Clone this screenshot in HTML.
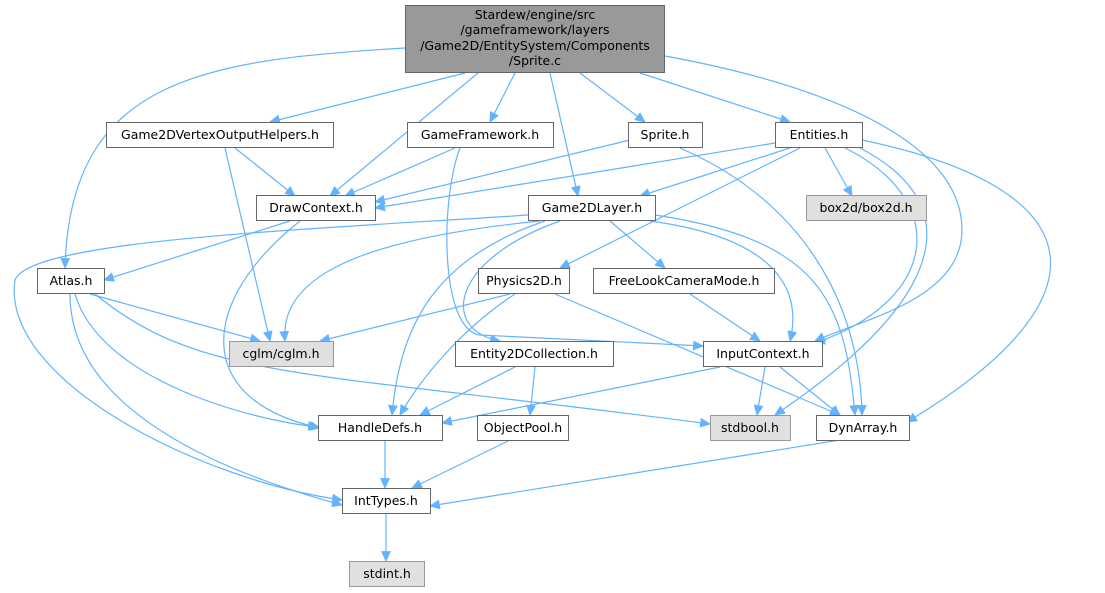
<!DOCTYPE html>
<html><head><meta charset="utf-8"><style>
html,body{margin:0;padding:0;background:#fff;}
svg{display:block;}
text{font-family:"DejaVu Sans","Liberation Sans",sans-serif;font-size:12.5px;fill:#000;}
</style></head><body>
<svg width="1105" height="593" viewBox="0 0 1105 593" xmlns="http://www.w3.org/2000/svg">
<defs><marker id="a" viewBox="0 0 10 10" refX="9" refY="5" markerWidth="11" markerHeight="11" markerUnits="userSpaceOnUse" orient="auto"><path d="M0,0.5 L10,5 L0,9.5 z" fill="#63b3ff"/></marker></defs>
<g fill="none" stroke="#63b3ff" stroke-width="1.2" marker-end="url(#a)">
<path d="M465,73 L270,122"/>
<path d="M405,48 C200,60 70,80 65,268"/>
<path d="M478,73 L330,196"/>
<path d="M515,73 L490,122"/>
<path d="M550,73 L578,196"/>
<path d="M580,73 L645,122"/>
<path d="M640,73 L790,122"/>
<path d="M665,56 C850,90 962,150 962,230 C962,300 860,320 815,341"/>
<path d="M235,148 L295,196"/>
<path d="M225,148 L270,341"/>
<path d="M455,148 L345,196"/>
<path d="M460,148 C440,200 440,330 480,335 L703,346"/>
<path d="M630,140 L375,202"/>
<path d="M680,148 C800,200 860,300 862,415"/>
<path d="M775,143 L375,208"/>
<path d="M790,148 L640,196"/>
<path d="M825,148 L852,196"/>
<path d="M800,148 L560,268"/>
<path d="M845,148 C950,200 940,300 815,343"/>
<path d="M860,148 C960,200 960,290 775,415"/>
<path d="M862,140 C1100,190 1110,300 907,422"/>
<path d="M290,221 L104,280"/>
<path d="M300,221 C200,300 190,400 320,428"/>
<path d="M540,221 C350,240 280,280 285,341"/>
<path d="M528,215 C300,230 30,240 15,280 C0,380 200,480 342,500"/>
<path d="M545,221 C430,260 400,330 392,415"/>
<path d="M560,221 C450,260 440,330 500,341"/>
<path d="M610,221 L665,268"/>
<path d="M650,221 C790,240 800,300 790,341"/>
<path d="M655,215 C820,240 845,300 855,415"/>
<path d="M90,294 L260,341"/>
<path d="M95,294 C200,380 300,370 710,424"/>
<path d="M75,294 C100,380 250,420 318,427"/>
<path d="M70,294 C70,420 250,480 342,505"/>
<path d="M510,294 L320,341"/>
<path d="M515,294 C460,330 420,380 400,415"/>
<path d="M555,294 L840,415"/>
<path d="M690,294 L760,341"/>
<path d="M515,367 L420,415"/>
<path d="M535,367 L530,415"/>
<path d="M720,367 L442,423"/>
<path d="M765,367 L757,415"/>
<path d="M780,367 L840,415"/>
<path d="M385,440 L385,488"/>
<path d="M510,440 L412,488"/>
<path d="M840,440 L430,506"/>
<path d="M386,514 L386,561"/>
</g>
<g stroke="#666" stroke-width="1">
<rect x="405.5" y="5.5" width="259" height="67" fill="#999"/>
<rect x="106.5" y="122.5" width="227" height="25" fill="#fff"/>
<rect x="407.5" y="122.5" width="146" height="25" fill="#fff"/>
<rect x="628.5" y="122.5" width="74" height="25" fill="#fff"/>
<rect x="775.5" y="122.5" width="87" height="25" fill="#fff"/>
<rect x="256.5" y="195.5" width="119" height="25" fill="#fff"/>
<rect x="528.5" y="195.5" width="127" height="25" fill="#fff"/>
<rect x="806.5" y="195.5" width="120" height="25" fill="#e0e0e0" stroke="#999"/>
<rect x="37.5" y="268.5" width="67" height="25" fill="#fff"/>
<rect x="478.5" y="268.5" width="91" height="25" fill="#fff"/>
<rect x="593.5" y="268.5" width="181" height="25" fill="#fff"/>
<rect x="229.5" y="341.5" width="104" height="25" fill="#e0e0e0" stroke="#999"/>
<rect x="455.5" y="341.5" width="158" height="25" fill="#fff"/>
<rect x="703.5" y="341.5" width="119" height="25" fill="#fff"/>
<rect x="318.5" y="415.5" width="124" height="25" fill="#fff"/>
<rect x="477.5" y="415.5" width="91" height="25" fill="#fff"/>
<rect x="710.5" y="415.5" width="80" height="25" fill="#e0e0e0" stroke="#999"/>
<rect x="816.5" y="415.5" width="93" height="25" fill="#fff"/>
<rect x="342.5" y="488.5" width="88" height="25" fill="#fff"/>
<rect x="349.5" y="561.5" width="75" height="25" fill="#e0e0e0" stroke="#999"/>
</g>
<g text-anchor="middle">
<text x="535" y="19">Stardew/engine/src</text>
<text x="535" y="34">/gameframework/layers</text>
<text x="535" y="50">/Game2D/EntitySystem/Components</text>
<text x="535" y="65">/Sprite.c</text>
<text x="220" y="139">Game2DVertexOutputHelpers.h</text>
<text x="480" y="139">GameFramework.h</text>
<text x="665" y="139">Sprite.h</text>
<text x="819" y="139">Entities.h</text>
<text x="316" y="212">DrawContext.h</text>
<text x="592" y="212">Game2DLayer.h</text>
<text x="866" y="212">box2d/box2d.h</text>
<text x="71" y="285">Atlas.h</text>
<text x="524" y="285">Physics2D.h</text>
<text x="684" y="285">FreeLookCameraMode.h</text>
<text x="281" y="358">cglm/cglm.h</text>
<text x="534" y="358">Entity2DCollection.h</text>
<text x="763" y="358">InputContext.h</text>
<text x="380" y="432">HandleDefs.h</text>
<text x="523" y="432">ObjectPool.h</text>
<text x="750" y="432">stdbool.h</text>
<text x="863" y="432">DynArray.h</text>
<text x="386" y="505">IntTypes.h</text>
<text x="387" y="578">stdint.h</text>
</g>
</svg>
</body></html>
